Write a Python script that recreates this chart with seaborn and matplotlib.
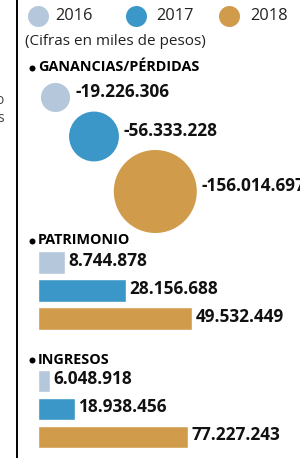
import numpy as np
import pandas as pd
import matplotlib
matplotlib.use("Agg")
import matplotlib.pyplot as plt
import seaborn as sns

# ---------------- data ----------------
years = ["2016", "2017", "2018"]
colors = ["#b5c7da", "#3b97c7", "#d09b4b"]
ganancias = [-19226306, -56333228, -156014697]
patrimonio = [8744878, 28156688, 49532449]
ingresos = [6048918, 18938456, 77227243]
subtitle = "(Cifras en miles de pesos)"
sections = ["GANANCIAS/PÉRDIDAS", "PATRIMONIO", "INGRESOS"]

# ---------------- style ----------------
sns.set_theme(style="white")
plt.rcParams["font.family"] = ["Open Sans", "DejaVu Sans"]

W, H = 300, 458
fig = plt.figure(figsize=(W / 100, H / 100), dpi=100)
fig.patch.set_facecolor("white")
renderer = fig.canvas.get_renderer()


def px_axes(x0, y0, x1, y1):
    return fig.add_axes([x0 / W, 1 - y1 / H, (x1 - x0) / W, (y1 - y0) / H])


def fmt(v):
    return f"{v:,}".replace(",", ".")


def fit_size(text, target_px, weight="normal"):
    t = fig.text(0, 0, text, fontsize=10, fontweight=weight)
    w = t.get_window_extent(renderer).width
    t.remove()
    return 10 * target_px / w


# font sizes fitted to the reference's text widths (slightly enlarged to
# approach the taller, narrower original typeface)
grow = 1.07
fs_leg = fit_size("2016", 35) * grow
fs_sub = fit_size(subtitle, 175) * 1.03
fs_hdr = fit_size(sections[0], 155, "bold") * 1.04
fs_val = fit_size(fmt(ganancias[0]), 88, "bold") * grow

# overlay axes in pixel coordinates (for text / rule / bubbles)
ov = px_axes(0, 0, W, H)
ov.patch.set_alpha(0)

# vertical rule
ov.plot([17, 17], [0, H], color="black", lw=1.4, solid_capstyle="butt")
# cropped fragments from neighbouring graphic
ov.text(4, 101, "o", ha="right", va="center", fontsize=10, color="#444444")
ov.text(4, 119, "s", ha="right", va="center", fontsize=10, color="#444444")

# legend
leg_cx = [38, 136, 229]
leg_tx = [55, 156, 250]
for cx, tx, c, y in zip(leg_cx, leg_tx, colors, years):
    ov.scatter([cx], [15.5], s=(21 * 0.72) ** 2, color=c, linewidths=0)
    ov.text(tx, 15.5, y, ha="left", va="center", fontsize=fs_leg, color="#222222")
ov.text(25, 41.5, subtitle, ha="left", va="center", fontsize=fs_sub, color="#222222")

# section headers
hdr_y = [67, 240.5, 359.5]
for t, y in zip(sections, hdr_y):
    ov.scatter([31.5], [y + 0.5], s=(6 * 0.72) ** 2, color="black", linewidths=0)
    ov.text(38, y, t, ha="left", va="center", fontsize=fs_hdr,
            fontweight="bold", color="black")

# ---------------- bubbles ----------------
bub_x = [55.5, 94, 155.3]
bub_y = [97.5, 136.5, 191.5]
mag = [abs(v) / 1e6 for v in ganancias]
k = 22.89  # marker area (pt^2) per million
df_b = pd.DataFrame({"x": bub_x, "y": bub_y, "year": years, "mag": mag})
sns.scatterplot(data=df_b, x="x", y="y", hue="year", palette=colors,
                size="mag", sizes=(k * min(mag), k * max(mag)),
                size_norm=(min(mag), max(mag)),
                linewidth=0, legend=False, ax=ov, zorder=3)
ov.set_xlim(0, W)
ov.set_ylim(H, 0)
ov.axis("off")
for x, y, m, v in zip(bub_x, bub_y, mag, ganancias):
    r_px = np.sqrt(k * m) / 2 / 0.72
    ov.annotate(fmt(v), (x, y), xytext=((r_px + 5) * 0.72, 5.5 * 0.72),
                textcoords="offset points", ha="left", va="center",
                fontsize=fs_val, fontweight="bold", color="#111111",
                annotation_clip=False)


# ---------------- bars ----------------
def bar_section(values, y0, px_per_unit):
    ax = px_axes(38, y0, W, y0 + 84)
    df = pd.DataFrame({"year": years, "val": [v / 1e6 for v in values]})
    sns.barplot(data=df, x="val", y="year", hue="year", palette=colors,
                orient="h", width=0.8, saturation=1, legend=False, ax=ax)
    ax.set_xlim(0, 262 / px_per_unit)
    ax.set_ylim(2.5, -0.5)
    ax.axis("off")
    for i, vv in enumerate(df.val):
        ax.annotate(fmt(values[i]), (vv, i), xytext=(3.5 * 0.72, 1.0),
                    textcoords="offset points", ha="left", va="center",
                    fontsize=fs_val, fontweight="bold", color="#111111",
                    annotation_clip=False)
    return ax


bar_section(patrimonio, 248.5, 154 / (patrimonio[2] / 1e6))
bar_section(ingresos, 366.7, 150 / (ingresos[2] / 1e6))

fig.savefig("out.png", dpi=100, facecolor="white")
